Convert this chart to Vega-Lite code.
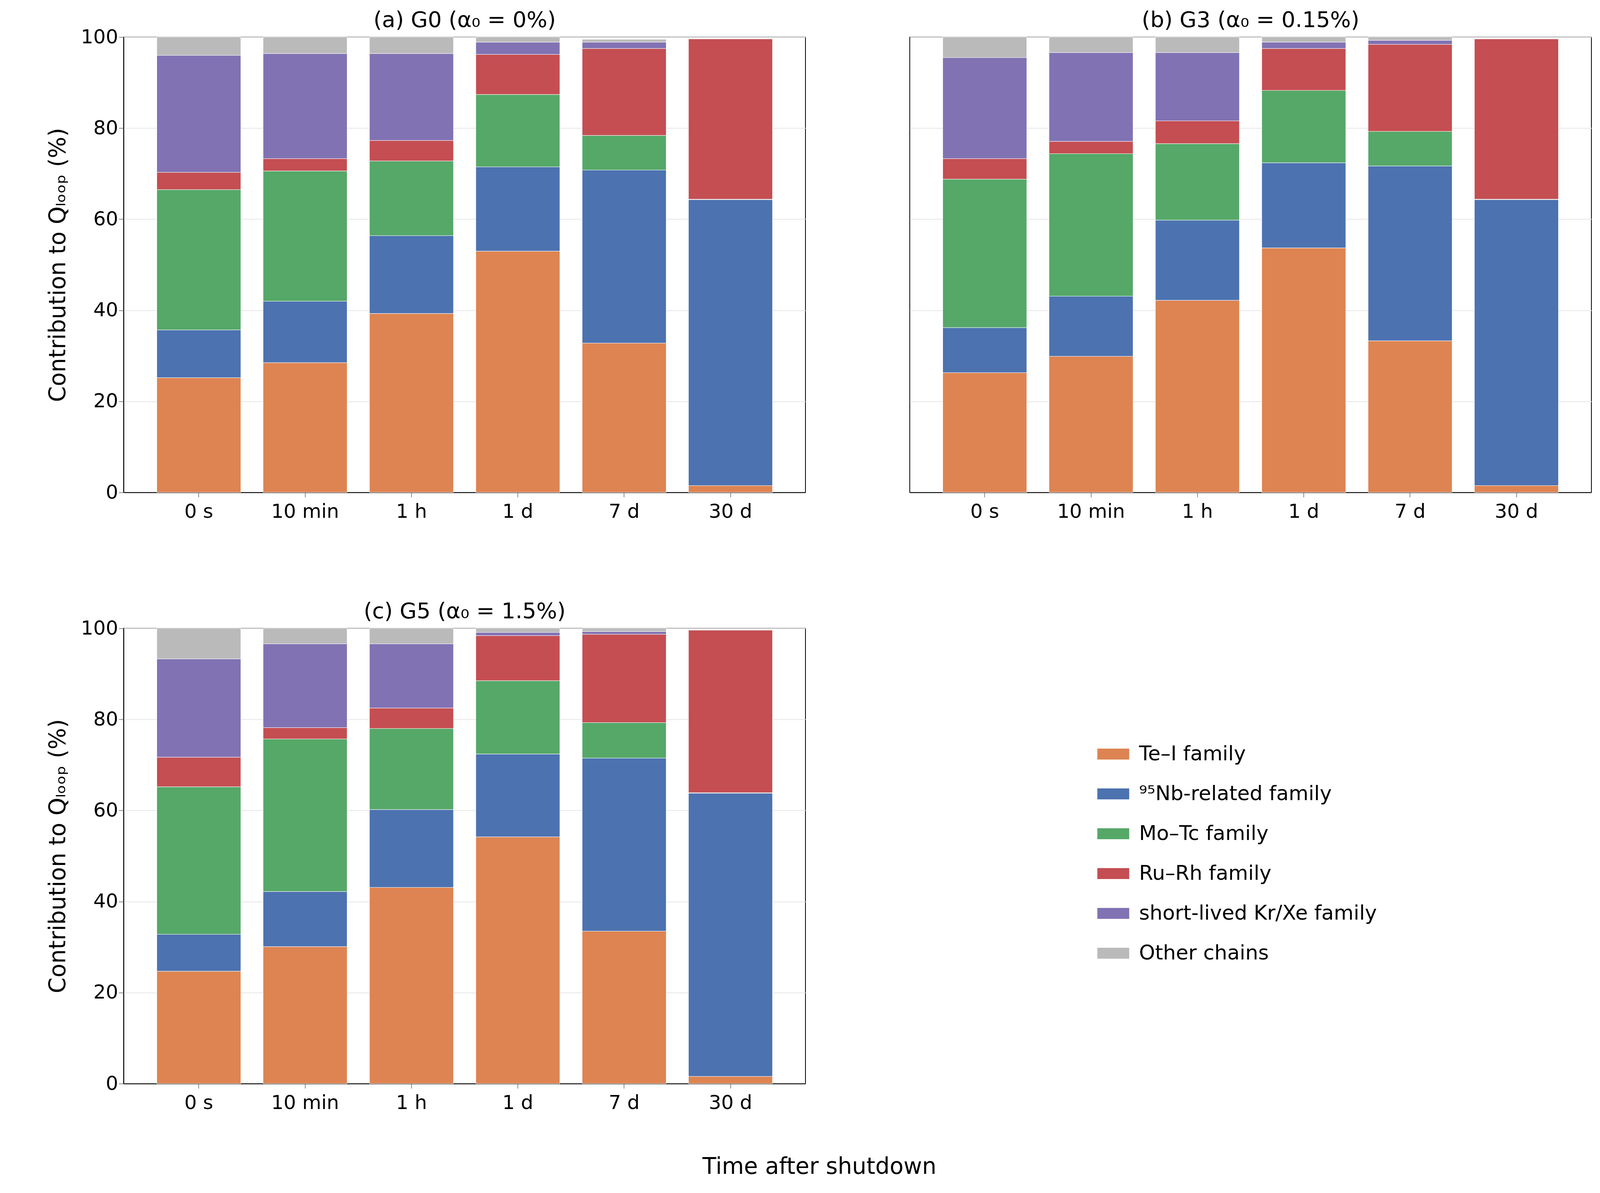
{
  "$schema": "https://vega.github.io/schema/vega-lite/v6.json",
  "background": "white",
  "padding": {"left": 120, "top": 22, "right": 20, "bottom": 20},
  "title": {"text": "Time after shutdown", "orient": "bottom", "anchor": "middle", "fontSize": 58, "font": "DejaVu Sans", "fontWeight": "normal", "offset": 110},
  "data": {"values": [
    {"g":"(a) G0 (α₀ = 0%)","t":"0 s","f":"Te–I family","o":1,"v":25.2},
    {"g":"(a) G0 (α₀ = 0%)","t":"0 s","f":"⁹⁵Nb-related family","o":2,"v":10.5},
    {"g":"(a) G0 (α₀ = 0%)","t":"0 s","f":"Mo–Tc family","o":3,"v":30.8},
    {"g":"(a) G0 (α₀ = 0%)","t":"0 s","f":"Ru–Rh family","o":4,"v":3.8},
    {"g":"(a) G0 (α₀ = 0%)","t":"0 s","f":"short-lived Kr/Xe family","o":5,"v":25.7},
    {"g":"(a) G0 (α₀ = 0%)","t":"0 s","f":"Other chains","o":6,"v":4.0},
    {"g":"(a) G0 (α₀ = 0%)","t":"10 min","f":"Te–I family","o":1,"v":28.5},
    {"g":"(a) G0 (α₀ = 0%)","t":"10 min","f":"⁹⁵Nb-related family","o":2,"v":13.5},
    {"g":"(a) G0 (α₀ = 0%)","t":"10 min","f":"Mo–Tc family","o":3,"v":28.6},
    {"g":"(a) G0 (α₀ = 0%)","t":"10 min","f":"Ru–Rh family","o":4,"v":2.7},
    {"g":"(a) G0 (α₀ = 0%)","t":"10 min","f":"short-lived Kr/Xe family","o":5,"v":23.1},
    {"g":"(a) G0 (α₀ = 0%)","t":"10 min","f":"Other chains","o":6,"v":3.6},
    {"g":"(a) G0 (α₀ = 0%)","t":"1 h","f":"Te–I family","o":1,"v":39.3},
    {"g":"(a) G0 (α₀ = 0%)","t":"1 h","f":"⁹⁵Nb-related family","o":2,"v":17.1},
    {"g":"(a) G0 (α₀ = 0%)","t":"1 h","f":"Mo–Tc family","o":3,"v":16.4},
    {"g":"(a) G0 (α₀ = 0%)","t":"1 h","f":"Ru–Rh family","o":4,"v":4.5},
    {"g":"(a) G0 (α₀ = 0%)","t":"1 h","f":"short-lived Kr/Xe family","o":5,"v":19.1},
    {"g":"(a) G0 (α₀ = 0%)","t":"1 h","f":"Other chains","o":6,"v":3.6},
    {"g":"(a) G0 (α₀ = 0%)","t":"1 d","f":"Te–I family","o":1,"v":53.0},
    {"g":"(a) G0 (α₀ = 0%)","t":"1 d","f":"⁹⁵Nb-related family","o":2,"v":18.5},
    {"g":"(a) G0 (α₀ = 0%)","t":"1 d","f":"Mo–Tc family","o":3,"v":15.9},
    {"g":"(a) G0 (α₀ = 0%)","t":"1 d","f":"Ru–Rh family","o":4,"v":8.8},
    {"g":"(a) G0 (α₀ = 0%)","t":"1 d","f":"short-lived Kr/Xe family","o":5,"v":2.7},
    {"g":"(a) G0 (α₀ = 0%)","t":"1 d","f":"Other chains","o":6,"v":1.1},
    {"g":"(a) G0 (α₀ = 0%)","t":"7 d","f":"Te–I family","o":1,"v":32.8},
    {"g":"(a) G0 (α₀ = 0%)","t":"7 d","f":"⁹⁵Nb-related family","o":2,"v":38.0},
    {"g":"(a) G0 (α₀ = 0%)","t":"7 d","f":"Mo–Tc family","o":3,"v":7.6},
    {"g":"(a) G0 (α₀ = 0%)","t":"7 d","f":"Ru–Rh family","o":4,"v":19.1},
    {"g":"(a) G0 (α₀ = 0%)","t":"7 d","f":"short-lived Kr/Xe family","o":5,"v":1.4},
    {"g":"(a) G0 (α₀ = 0%)","t":"7 d","f":"Other chains","o":6,"v":0.6},
    {"g":"(a) G0 (α₀ = 0%)","t":"30 d","f":"Te–I family","o":1,"v":1.5},
    {"g":"(a) G0 (α₀ = 0%)","t":"30 d","f":"⁹⁵Nb-related family","o":2,"v":62.8},
    {"g":"(a) G0 (α₀ = 0%)","t":"30 d","f":"Mo–Tc family","o":3,"v":0.1},
    {"g":"(a) G0 (α₀ = 0%)","t":"30 d","f":"Ru–Rh family","o":4,"v":35.2},
    {"g":"(a) G0 (α₀ = 0%)","t":"30 d","f":"short-lived Kr/Xe family","o":5,"v":0.1},
    {"g":"(a) G0 (α₀ = 0%)","t":"30 d","f":"Other chains","o":6,"v":0.1},
    {"g":"(b) G3 (α₀ = 0.15%)","t":"0 s","f":"Te–I family","o":1,"v":26.3},
    {"g":"(b) G3 (α₀ = 0.15%)","t":"0 s","f":"⁹⁵Nb-related family","o":2,"v":9.9},
    {"g":"(b) G3 (α₀ = 0.15%)","t":"0 s","f":"Mo–Tc family","o":3,"v":32.6},
    {"g":"(b) G3 (α₀ = 0.15%)","t":"0 s","f":"Ru–Rh family","o":4,"v":4.5},
    {"g":"(b) G3 (α₀ = 0.15%)","t":"0 s","f":"short-lived Kr/Xe family","o":5,"v":22.2},
    {"g":"(b) G3 (α₀ = 0.15%)","t":"0 s","f":"Other chains","o":6,"v":4.5},
    {"g":"(b) G3 (α₀ = 0.15%)","t":"10 min","f":"Te–I family","o":1,"v":29.9},
    {"g":"(b) G3 (α₀ = 0.15%)","t":"10 min","f":"⁹⁵Nb-related family","o":2,"v":13.2},
    {"g":"(b) G3 (α₀ = 0.15%)","t":"10 min","f":"Mo–Tc family","o":3,"v":31.3},
    {"g":"(b) G3 (α₀ = 0.15%)","t":"10 min","f":"Ru–Rh family","o":4,"v":2.7},
    {"g":"(b) G3 (α₀ = 0.15%)","t":"10 min","f":"short-lived Kr/Xe family","o":5,"v":19.5},
    {"g":"(b) G3 (α₀ = 0.15%)","t":"10 min","f":"Other chains","o":6,"v":3.4},
    {"g":"(b) G3 (α₀ = 0.15%)","t":"1 h","f":"Te–I family","o":1,"v":42.2},
    {"g":"(b) G3 (α₀ = 0.15%)","t":"1 h","f":"⁹⁵Nb-related family","o":2,"v":17.6},
    {"g":"(b) G3 (α₀ = 0.15%)","t":"1 h","f":"Mo–Tc family","o":3,"v":16.8},
    {"g":"(b) G3 (α₀ = 0.15%)","t":"1 h","f":"Ru–Rh family","o":4,"v":5.0},
    {"g":"(b) G3 (α₀ = 0.15%)","t":"1 h","f":"short-lived Kr/Xe family","o":5,"v":15.0},
    {"g":"(b) G3 (α₀ = 0.15%)","t":"1 h","f":"Other chains","o":6,"v":3.4},
    {"g":"(b) G3 (α₀ = 0.15%)","t":"1 d","f":"Te–I family","o":1,"v":53.7},
    {"g":"(b) G3 (α₀ = 0.15%)","t":"1 d","f":"⁹⁵Nb-related family","o":2,"v":18.7},
    {"g":"(b) G3 (α₀ = 0.15%)","t":"1 d","f":"Mo–Tc family","o":3,"v":15.9},
    {"g":"(b) G3 (α₀ = 0.15%)","t":"1 d","f":"Ru–Rh family","o":4,"v":9.2},
    {"g":"(b) G3 (α₀ = 0.15%)","t":"1 d","f":"short-lived Kr/Xe family","o":5,"v":1.4},
    {"g":"(b) G3 (α₀ = 0.15%)","t":"1 d","f":"Other chains","o":6,"v":1.1},
    {"g":"(b) G3 (α₀ = 0.15%)","t":"7 d","f":"Te–I family","o":1,"v":33.3},
    {"g":"(b) G3 (α₀ = 0.15%)","t":"7 d","f":"⁹⁵Nb-related family","o":2,"v":38.4},
    {"g":"(b) G3 (α₀ = 0.15%)","t":"7 d","f":"Mo–Tc family","o":3,"v":7.6},
    {"g":"(b) G3 (α₀ = 0.15%)","t":"7 d","f":"Ru–Rh family","o":4,"v":19.1},
    {"g":"(b) G3 (α₀ = 0.15%)","t":"7 d","f":"short-lived Kr/Xe family","o":5,"v":0.9},
    {"g":"(b) G3 (α₀ = 0.15%)","t":"7 d","f":"Other chains","o":6,"v":0.7},
    {"g":"(b) G3 (α₀ = 0.15%)","t":"30 d","f":"Te–I family","o":1,"v":1.5},
    {"g":"(b) G3 (α₀ = 0.15%)","t":"30 d","f":"⁹⁵Nb-related family","o":2,"v":62.8},
    {"g":"(b) G3 (α₀ = 0.15%)","t":"30 d","f":"Mo–Tc family","o":3,"v":0.1},
    {"g":"(b) G3 (α₀ = 0.15%)","t":"30 d","f":"Ru–Rh family","o":4,"v":35.2},
    {"g":"(b) G3 (α₀ = 0.15%)","t":"30 d","f":"short-lived Kr/Xe family","o":5,"v":0.1},
    {"g":"(b) G3 (α₀ = 0.15%)","t":"30 d","f":"Other chains","o":6,"v":0.1},
    {"g":"(c) G5 (α₀ = 1.5%)","t":"0 s","f":"Te–I family","o":1,"v":24.7},
    {"g":"(c) G5 (α₀ = 1.5%)","t":"0 s","f":"⁹⁵Nb-related family","o":2,"v":8.1},
    {"g":"(c) G5 (α₀ = 1.5%)","t":"0 s","f":"Mo–Tc family","o":3,"v":32.4},
    {"g":"(c) G5 (α₀ = 1.5%)","t":"0 s","f":"Ru–Rh family","o":4,"v":6.5},
    {"g":"(c) G5 (α₀ = 1.5%)","t":"0 s","f":"short-lived Kr/Xe family","o":5,"v":21.6},
    {"g":"(c) G5 (α₀ = 1.5%)","t":"0 s","f":"Other chains","o":6,"v":6.7},
    {"g":"(c) G5 (α₀ = 1.5%)","t":"10 min","f":"Te–I family","o":1,"v":30.1},
    {"g":"(c) G5 (α₀ = 1.5%)","t":"10 min","f":"⁹⁵Nb-related family","o":2,"v":12.1},
    {"g":"(c) G5 (α₀ = 1.5%)","t":"10 min","f":"Mo–Tc family","o":3,"v":33.5},
    {"g":"(c) G5 (α₀ = 1.5%)","t":"10 min","f":"Ru–Rh family","o":4,"v":2.5},
    {"g":"(c) G5 (α₀ = 1.5%)","t":"10 min","f":"short-lived Kr/Xe family","o":5,"v":18.4},
    {"g":"(c) G5 (α₀ = 1.5%)","t":"10 min","f":"Other chains","o":6,"v":3.4},
    {"g":"(c) G5 (α₀ = 1.5%)","t":"1 h","f":"Te–I family","o":1,"v":43.1},
    {"g":"(c) G5 (α₀ = 1.5%)","t":"1 h","f":"⁹⁵Nb-related family","o":2,"v":17.1},
    {"g":"(c) G5 (α₀ = 1.5%)","t":"1 h","f":"Mo–Tc family","o":3,"v":17.8},
    {"g":"(c) G5 (α₀ = 1.5%)","t":"1 h","f":"Ru–Rh family","o":4,"v":4.5},
    {"g":"(c) G5 (α₀ = 1.5%)","t":"1 h","f":"short-lived Kr/Xe family","o":5,"v":14.1},
    {"g":"(c) G5 (α₀ = 1.5%)","t":"1 h","f":"Other chains","o":6,"v":3.4},
    {"g":"(c) G5 (α₀ = 1.5%)","t":"1 d","f":"Te–I family","o":1,"v":54.2},
    {"g":"(c) G5 (α₀ = 1.5%)","t":"1 d","f":"⁹⁵Nb-related family","o":2,"v":18.2},
    {"g":"(c) G5 (α₀ = 1.5%)","t":"1 d","f":"Mo–Tc family","o":3,"v":16.1},
    {"g":"(c) G5 (α₀ = 1.5%)","t":"1 d","f":"Ru–Rh family","o":4,"v":9.9},
    {"g":"(c) G5 (α₀ = 1.5%)","t":"1 d","f":"short-lived Kr/Xe family","o":5,"v":0.7},
    {"g":"(c) G5 (α₀ = 1.5%)","t":"1 d","f":"Other chains","o":6,"v":0.9},
    {"g":"(c) G5 (α₀ = 1.5%)","t":"7 d","f":"Te–I family","o":1,"v":33.5},
    {"g":"(c) G5 (α₀ = 1.5%)","t":"7 d","f":"⁹⁵Nb-related family","o":2,"v":38.0},
    {"g":"(c) G5 (α₀ = 1.5%)","t":"7 d","f":"Mo–Tc family","o":3,"v":7.8},
    {"g":"(c) G5 (α₀ = 1.5%)","t":"7 d","f":"Ru–Rh family","o":4,"v":19.4},
    {"g":"(c) G5 (α₀ = 1.5%)","t":"7 d","f":"short-lived Kr/Xe family","o":5,"v":0.6},
    {"g":"(c) G5 (α₀ = 1.5%)","t":"7 d","f":"Other chains","o":6,"v":0.7},
    {"g":"(c) G5 (α₀ = 1.5%)","t":"30 d","f":"Te–I family","o":1,"v":1.6},
    {"g":"(c) G5 (α₀ = 1.5%)","t":"30 d","f":"⁹⁵Nb-related family","o":2,"v":62.2},
    {"g":"(c) G5 (α₀ = 1.5%)","t":"30 d","f":"Mo–Tc family","o":3,"v":0.1},
    {"g":"(c) G5 (α₀ = 1.5%)","t":"30 d","f":"Ru–Rh family","o":4,"v":35.7},
    {"g":"(c) G5 (α₀ = 1.5%)","t":"30 d","f":"short-lived Kr/Xe family","o":5,"v":0.1},
    {"g":"(c) G5 (α₀ = 1.5%)","t":"30 d","f":"Other chains","o":6,"v":0.1}
  ]},
  "facet": {"field": "g", "type": "nominal", "header": {"title": null, "labelFontSize": 56, "labelFont": "DejaVu Sans", "labelPadding": 14, "labelColor": "black"}},
  "columns": 2,
  "spacing": {"column": 265, "row": 200},
  "resolve": {"axis": {"x": "independent"}},
  "spec": {
    "width": 1745,
    "height": 1166,
    "mark": {"type": "bar", "stroke": "white", "strokeWidth": 1},
    "encoding": {
      "x": {"field": "t", "type": "nominal", "sort": ["0 s", "10 min", "1 h", "1 d", "7 d", "30 d"], "title": null,
        "scale": {"paddingInner": 0.21, "paddingOuter": 0.31},
        "axis": {"labelAngle": 0, "labelFontSize": 50, "labelFont": "DejaVu Sans", "labelColor": "black", "tickSize": 12, "tickWidth": 2, "domainColor": "black", "domainWidth": 2, "labelPadding": 12}},
      "y": {"field": "v", "type": "quantitative", "stack": "zero", "title": "Contribution to Qₗₒₒₚ (%)",
        "scale": {"domain": [0, 100], "nice": false},
        "axis": {"values": [0, 20, 40, 60, 80, 100], "labelFontSize": 50, "labelFont": "DejaVu Sans", "labelColor": "black", "titleFontSize": 58, "titleFont": "DejaVu Sans", "titleFontWeight": "normal", "titleColor": "black", "titlePadding": 28, "tickSize": 12, "tickWidth": 2, "domainColor": "black", "domainWidth": 2, "gridColor": "#e6e6e6", "gridWidth": 2}},
      "order": {"field": "o", "type": "quantitative"},
      "color": {"field": "f", "type": "nominal", "title": null,
        "scale": {"domain": ["Te–I family", "⁹⁵Nb-related family", "Mo–Tc family", "Ru–Rh family", "short-lived Kr/Xe family", "Other chains"],
          "range": ["#dd8452", "#4c72b0", "#55a868", "#c44e52", "#8172b3", "#bababa"]},
        "legend": {"orient": "none", "legendX": 2507, "legendY": 1810, "labelFontSize": 52, "labelLimit": 0, "labelFont": "DejaVu Sans", "labelColor": "black", "symbolType": "M-1.6,-0.55H1.6V0.55H-1.6Z", "symbolSize": 2600, "symbolOpacity": 1, "symbolStrokeWidth": 0, "rowPadding": 50, "labelOffset": 40}}
    }
  },
  "config": {"view": {"stroke": "black", "strokeWidth": 2}}
}
